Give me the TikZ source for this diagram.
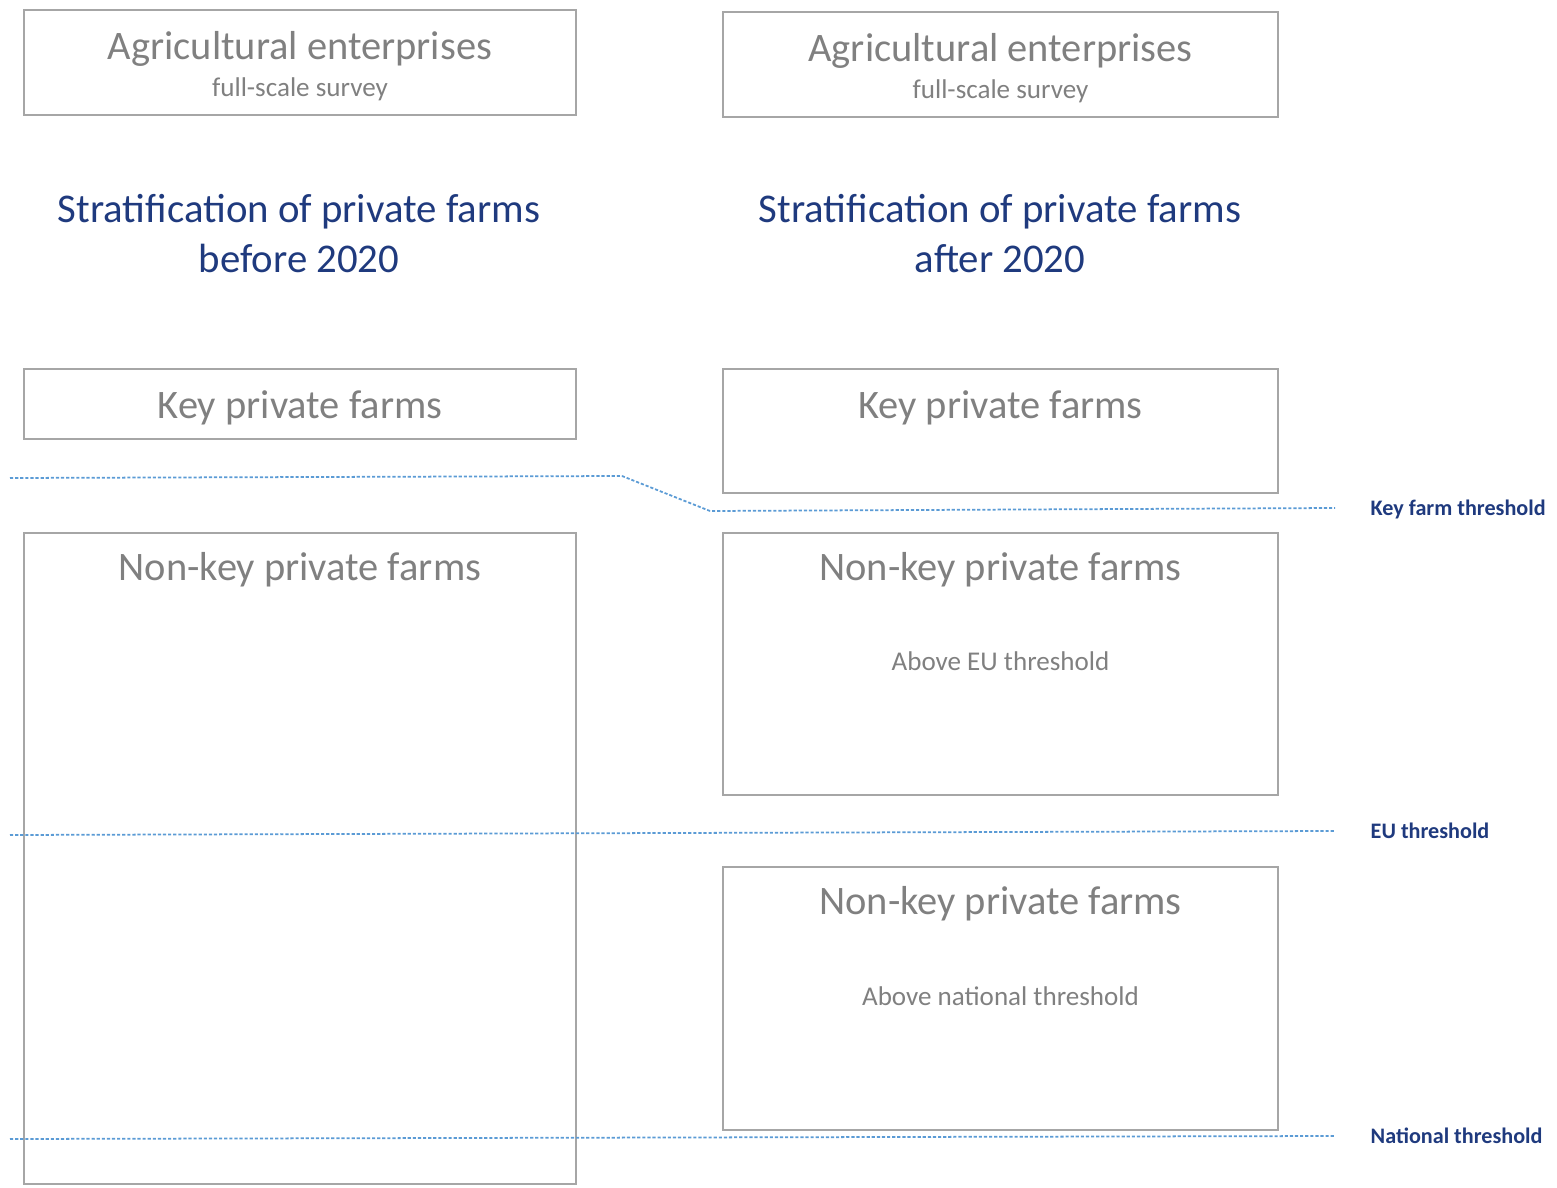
\documentclass[tikz,border=0pt]{standalone}
\usepackage{fontspec}
\setmainfont{Carlito}
\usepackage{xcolor}
\usepackage{tikz}
\usetikzlibrary{positioning, calc}

\definecolor{boxgray}{HTML}{A6A6A6}
\definecolor{textgray}{HTML}{808080}
\definecolor{titleblue}{HTML}{1F3A7E}
\definecolor{lineblue}{HTML}{5B9BD5}

\tikzset{
    box/.style={draw=boxgray, line width=0.6pt, inner sep=0pt},
    bigtext/.style={text=textgray, font=\fontsize{11.5}{13}\selectfont, anchor=base},
    smalltext/.style={text=textgray, font=\fontsize{7.7}{9}\selectfont, anchor=base},
    titletext/.style={text=titleblue, font=\fontsize{11.6}{14.5}\selectfont, anchor=base},
    limit/.style={draw=lineblue, line width=0.5pt, dash pattern=on 0.9pt off 0.55pt},
    limitlabel/.style={text=titleblue, font=\fontsize{6.3}{8}\selectfont\bfseries, anchor=base west, inner sep=0pt}
}

\begin{document}
\begin{tikzpicture}[x=0.01cm, y=-0.01cm]
    \useasboundingbox (0,0) rectangle (1557,1188);

    % Boxes, left column
    \node[box, minimum width=5.52cm, minimum height=1.05cm] (agL) at (300,62.5) {};
    \node[box, minimum width=5.52cm, minimum height=0.70cm] (keyL) at (300,404) {};
    \node[box, minimum width=5.52cm, minimum height=6.51cm] (nonL) at (300,858.5) {};

    % Boxes, right column
    \node[box, minimum width=5.55cm, minimum height=1.05cm] (agR) at (1000.5,64.5) {};
    \node[box, minimum width=5.55cm, minimum height=1.24cm] (keyR) at (1000.5,431) {};
    \node[box, minimum width=5.55cm, minimum height=2.62cm] (nonRa) at (1000.5,664) {};
    \node[box, minimum width=5.55cm, minimum height=2.63cm] (nonRb) at (1000.5,998.5) {};

    % Box texts
    \node[bigtext] (agLt) at (300,60) {Agricultural enterprises};
    \node[smalltext] (agLs) at (300,97) {full-scale survey};
    \node[bigtext] (agRt) at (1000.5,62) {Agricultural enterprises};
    \node[smalltext] (agRs) at (1000.5,99) {full-scale survey};

    \node[bigtext] (keyLt) at (300,418) {Key private farms};
    \node[bigtext] (keyRt) at (1000.5,418) {Key private farms};

    \node[bigtext] (nonLt) at (300,580) {Non-key private farms};
    \node[bigtext] (nonRat) at (1000.5,580) {Non-key private farms};
    \node[smalltext] (nonRas) at (1000.5,670) {Above EU threshold};
    \node[bigtext] (nonRbt) at (1000.5,914) {Non-key private farms};
    \node[smalltext] (nonRbs) at (1000.5,1005) {Above national threshold};

    % Titles
    \node[titletext] (titL1) at (299,222) {Stratification of private farms};
    \node[titletext] (titL2) at (299,273) {before 2020};
    \node[titletext] (titR1) at (1000,222) {Stratification of private farms};
    \node[titletext] (titR2) at (1000,273) {after 2020};

    % Threshold labels
    \node[limitlabel] (keylim) at (1370,515) {Key farm threshold};
    \node[limitlabel] (eulim) at (1370,838) {EU threshold};
    \node[limitlabel] (natlim) at (1370,1143) {National threshold};

    % Threshold lines
    \coordinate (k0) at (10,478);
    \coordinate (k1) at (622,476);
    \coordinate (k2) at (710,511);
    \coordinate (k3) at (1335,508);
    \draw[limit] (k0) -- (k1) -- (k2) -- (k3);

    \coordinate (e0) at (10,835);
    \coordinate (e1) at (1335,831);
    \draw[limit] (e0) -- (e1);

    \coordinate (n0) at (10,1139);
    \coordinate (n1) at (1335,1136);
    \draw[limit] (n0) -- (n1);
\end{tikzpicture}
\end{document}
